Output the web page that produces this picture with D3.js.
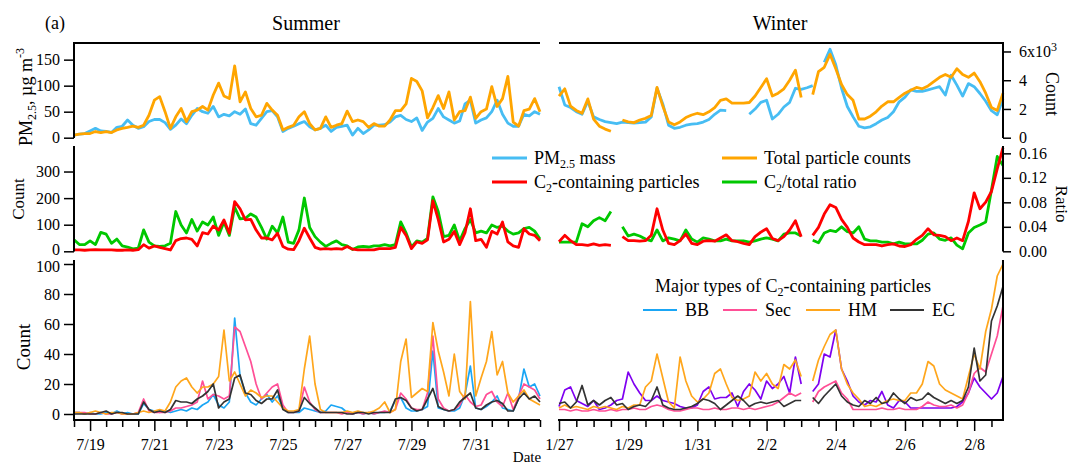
<!DOCTYPE html>
<html>
<head>
<meta charset="utf-8">
<script src="https://cdn.jsdelivr.net/npm/d3@7"></script>
<style>
body { margin: 0; background: #fff; }
</style>
</head>
<body>
<svg id="chart" width="1074" height="467"></svg>
<script>
// 4-hourly series, summer starts 7/18 12:00, winter starts 1/27 00:00
const step = 4 * 3600 * 1000;
const summerStart = new Date(2016, 6, 18, 12);
const summerEnd = new Date(2016, 7, 2, 0);
const winterStart = new Date(2017, 0, 27, 0);
const winterEnd = new Date(2017, 1, 8, 20);

const summerMajor = [19, 21, 23, 25, 27, 29, 31].map(d => new Date(2016, 6, d));
const winterMajor = [[0, 27], [0, 29], [0, 31], [1, 2], [1, 4], [1, 6], [1, 8]].map(d => new Date(2017, d[0], d[1]));

// panel 1
const summerPM = [5,7,8,13,18,13,12,10,20,22,34,24,18,21,31,35,35,29,16,24,36,27,43,56,50,47,60,40,
  45,42,50,45,55,27,24,37,50,52,40,12,18,22,27,31,21,15,18,24,12,20,22,24,5,18,8,15,24,
  24,25,30,40,43,35,31,38,14,30,37,56,40,34,28,32,65,72,28,34,38,50,72,45,28,22,22,45,42,50,45];
const summerTotal = [180,250,290,290,430,360,430,360,540,650,720,800,720,870,1560,2610,2860,1810,650,1450,2030,1120,1810,1920,2170,1920,2970,3800,
  2900,2720,5000,2500,3190,2030,1450,1560,2390,1920,1560,540,720,870,1450,1810,980,540,650,1450,720,870,980,1850,1120,1230,1120,720,980,
  800,800,1230,1880,1880,2350,4130,3910,3260,1380,2100,2930,2030,3190,1230,1810,1880,2820,1340,1810,1990,3550,2170,2720,4270,1090,800,1880,1990,2720,1810];
const winterPM = [98,63,58,50,45,70,40,35,31,29,
  27,30,29,28,29,30,40,95,65,24,
  18,20,24,26,27,30,35,45,53,52,
  null,null,null,45,55,68,72,36,45,59,
  68,95,93,96,100,null,145,170,140,95,
  60,40,22,19,21,27,34,39,50,69,
  78,92,89,89,92,95,98,82,120,101,
  80,104,98,85,70,52,44,75];
const winterTotal = [2900,3400,2200,1900,1700,2700,1300,800,600,450,
  null,1230,1100,1050,1230,1350,1550,3500,2200,1100,
  900,1100,1400,1580,1700,1600,1800,2100,2600,2700,
  2400,2400,2400,2450,2900,3500,4100,2900,3100,3400,
  4000,4700,2800,null,3000,4600,4900,5800,4800,3700,
  3000,2600,1300,1300,1500,1800,2200,2500,2500,2800,
  3100,3300,3500,3400,3600,3900,4200,4400,4200,4800,
  4400,4200,4500,3900,3100,2100,1900,3100];

// panel 2
const summerC2 = [5,5,4,5,6,5,5,5,4,4,5,4,6,25,12,20,15,10,5,40,48,50,45,20,70,65,95,80,
  118,68,187,160,118,120,80,50,50,43,68,18,8,6,40,87,50,15,8,10,8,10,8,18,8,5,5,5,5,
  10,10,10,15,90,60,10,35,30,43,190,120,35,45,75,25,70,160,40,45,15,75,65,110,35,20,15,85,65,60,40];
const summerRatio = [0.019,0.011,0.011,0.017,0.011,0.031,0.028,0.013,0.020,0.009,0.007,0.004,0.005,0.035,0.015,0.009,0.008,0.009,0.013,0.065,0.043,0.030,0.052,0.033,0.048,0.043,0.056,0.026,
  0.048,0.026,0.072,0.053,0.054,0.061,0.056,0.039,0.020,0.041,0.030,0.056,0.015,0.013,0.035,0.087,0.039,0.024,0.015,0.008,0.013,0.017,0.011,0.009,0.003,0.007,0.008,0.007,0.009,
  0.009,0.011,0.009,0.011,0.048,0.030,0.007,0.017,0.015,0.021,0.089,0.065,0.024,0.026,0.043,0.017,0.037,0.052,0.030,0.033,0.030,0.043,0.039,0.041,0.033,0.028,0.030,0.037,0.039,0.033,0.020];
const winterC2 = [36,60,40,25,25,22,28,22,25,22,
  null,55,40,40,38,40,60,160,80,30,
  25,40,65,30,25,38,40,38,50,62,
  40,36,30,25,55,72,85,48,40,55,
  80,115,55,null,60,90,140,175,165,120,
  90,50,35,25,25,25,20,25,28,20,
  18,25,45,60,85,62,60,55,40,50,
  40,112,220,160,185,225,310,390];
const winterRatio = [0.015,0.015,0.015,0.015,0.045,0.04,0.05,0.055,0.05,0.065,
  null,0.04,0.025,0.028,0.025,0.02,0.017,0.035,0.017,0.022,
  0.02,0.017,0.035,0.02,0.015,0.022,0.02,0.017,0.017,0.02,
  0.017,0.017,0.017,0.015,0.017,0.02,0.022,0.02,0.017,0.028,
  0.03,0.03,0.025,null,0.018,0.014,0.03,0.034,0.032,0.04,
  0.032,0.03,0.04,0.02,0.017,0.017,0.015,0.015,0.012,0.015,
  0.012,0.012,0.012,0.018,0.028,0.03,0.02,0.018,0.022,0.01,
  0.004,0.03,0.039,0.043,0.048,0.10,0.155,0.14];

// panel 3
const summerBB = [1,1,0,1,0,0,1,0,2,0,1,0,0,7,3,2,1,2,1,2,3,2,4,3,6,8,13,6,4,8,64,25,14,8,6,10,13,8,12,4,1,1,1,4,3,2,1,2,6,5,4,1,0,1,0,1,0,1,1,2,9,11,4,2,2,3,5,42,4,3,2,2,4,13,32,4,3,5,8,12,4,3,2,10,30,18,20,12];
const summerSec = [1,1,1,0,0,1,0,0,1,0,0,0,1,10,2,1,1,1,2,4,4,5,6,8,22,10,13,12,10,12,58,55,45,35,20,10,14,18,20,6,1,1,2,18,8,3,1,1,1,1,0,1,0,1,0,1,0,1,2,1,3,14,10,4,3,3,14,52,10,4,2,3,6,13,8,5,6,13,15,8,5,14,3,12,20,18,16,10];
const summerHM = [1,1,0,1,2,1,0,1,1,0,0,0,1,2,1,2,3,2,8,18,22,24,18,14,18,18,20,25,56,22,28,20,12,16,14,11,12,12,8,4,2,2,3,30,52,20,3,1,1,1,1,2,1,2,1,1,2,4,8,1,3,35,50,11,14,17,15,61,42,28,12,40,15,10,75,12,24,35,55,26,35,14,8,12,16,10,8,6];
const summerEC = [0,0,0,0,0,1,2,0,1,1,0,0,0,8,3,1,2,1,3,9,8,8,7,10,12,15,20,4,8,10,24,26,14,13,9,7,10,10,16,3,1,1,2,11,7,4,1,1,1,1,1,0,0,1,1,0,1,1,1,1,10,11,9,4,2,3,10,17,5,3,2,3,8,11,14,4,3,6,8,9,7,2,2,10,14,10,12,8];
const winterBB = [5,16,18,9,7,5,9,3,4,6,9,10,28,20,14,9,9,12,9,8,7,5,4,4,6,
  15,18,10,11,11,14,5,15,20,16,10,22,17,20,25,14,38,20,null,15,20,40,38,56,30,22,
  12,8,6,9,8,15,6,4,9,8,4,4,4,4,4,4,4,4,5,8,14,24,18,14,10,14,25];
const winterSec = [3,3,2,3,2,2,3,2,2,3,2,3,3,4,3,3,5,6,5,3,2,2,3,4,4,
  3,3,4,3,3,4,4,3,4,3,4,5,6,8,11,14,12,14,null,8,15,18,20,22,14,10,
  3,3,3,3,3,4,3,3,4,3,3,3,5,8,6,5,5,6,4,6,14,27,31,28,40,52,72];
const winterHM = [4,6,4,5,4,3,5,4,5,4,3,5,4,6,6,18,22,40,24,8,4,38,22,12,8,
  10,14,27,30,20,11,9,10,12,28,22,27,20,17,33,30,36,25,null,22,36,45,53,56,30,20,
  14,10,5,6,5,7,9,10,9,9,14,14,20,35,32,20,16,14,12,10,25,40,30,55,70,92,100];
const winterEC = [7,8,4,8,19,6,9,6,9,11,6,7,3,5,6,5,9,18,6,4,3,3,4,5,7,
  10,9,7,3,6,9,12,9,5,7,8,7,8,9,5,7,9,9,null,11,7,12,16,20,12,8,
  6,5,9,7,11,7,8,14,10,7,11,9,10,14,11,9,7,9,7,9,18,44,22,26,62,72,85];

const font = "'Liberation Serif','Times New Roman',serif";
const svg = d3.select("#chart");

const xS = d3.scaleTime().domain([summerStart, summerEnd]).range([74, 540]);
const xW = d3.scaleTime().domain([winterStart, winterEnd]).range([559, 1003]);

const yPM = d3.scaleLinear().domain([0, 182]).range([137.7, 43]);
const yTot = d3.scaleLinear().domain([0, 6590]).range([137.7, 43]);
const yC2 = d3.scaleLinear().domain([0, 396]).range([251.3, 146]);
const yRat = d3.scaleLinear().domain([0, 0.172]).range([251.3, 146]);
const yTyp = d3.scaleLinear().domain([0, 100]).range([414, 264]);

function series(start, vals) {
  return vals.map((v, i) => ({ t: new Date(+start + i * step), v: v }));
}

function drawLine(x, y, start, vals, color, w) {
  const line = d3.line()
    .defined(d => d.v !== null)
    .x(d => x(d.t))
    .y(d => y(d.v));
  svg.append("path")
    .datum(series(start, vals))
    .attr("fill", "none")
    .attr("stroke", color)
    .attr("stroke-width", w)
    .attr("stroke-linejoin", "round")
    .attr("d", line);
}

function spine(x1, y1, x2, y2) {
  svg.append("line")
    .attr("x1", x1).attr("y1", y1).attr("x2", x2).attr("y2", y2)
    .attr("stroke", "#000").attr("stroke-width", 2);
}

function styleAxis(g, size) {
  g.select(".domain").remove();
  g.selectAll(".tick line").attr("stroke-width", 1.5);
  g.selectAll(".tick text").attr("font-family", font).attr("font-size", size).attr("fill", "#000");
}

// colours
const cPM = "#47bdf3", cTot = "#ffa500", cC2 = "#ff0000", cRat = "#00c800";
const cBB = "#1aa6f5", cSec = "#ff4f96", cHM = "#ffa61c", cEC = "#333333", cBBw = "#7f00f0";

// lines
drawLine(xS, yPM, summerStart, summerPM, cPM, 2.8);
drawLine(xS, yTot, summerStart, summerTotal, cTot, 2.8);
drawLine(xW, yPM, winterStart, winterPM, cPM, 2.8);
drawLine(xW, yTot, winterStart, winterTotal, cTot, 2.8);

drawLine(xS, yRat, summerStart, summerRatio, cRat, 2.8);
drawLine(xS, yC2, summerStart, summerC2, cC2, 2.8);
drawLine(xW, yRat, winterStart, winterRatio, cRat, 2.8);
drawLine(xW, yC2, winterStart, winterC2, cC2, 2.8);

drawLine(xS, yTyp, summerStart, summerBB, cBB, 1.7);
drawLine(xS, yTyp, summerStart, summerSec, cSec, 1.7);
drawLine(xS, yTyp, summerStart, summerHM, cHM, 1.7);
drawLine(xS, yTyp, summerStart, summerEC, cEC, 1.7);
drawLine(xW, yTyp, winterStart, winterBB, cBBw, 1.7);
drawLine(xW, yTyp, winterStart, winterSec, cSec, 1.7);
drawLine(xW, yTyp, winterStart, winterHM, cHM, 1.7);
drawLine(xW, yTyp, winterStart, winterEC, cEC, 1.7);

// left axes
let g = svg.append("g").attr("transform", "translate(74,0)")
  .call(d3.axisLeft(yPM).tickValues([0, 50, 100, 150]).tickSize(10).tickPadding(4));
styleAxis(g, 16);
g = svg.append("g").attr("transform", "translate(74,0)")
  .call(d3.axisLeft(yC2).tickValues([0, 100, 200, 300]).tickSize(10).tickPadding(4));
styleAxis(g, 16);
g.selectAll(".tick text").filter(d => d === 0).attr("dy", "0.2em");
g = svg.append("g").attr("transform", "translate(74,0)")
  .call(d3.axisLeft(yTyp).tickValues([0, 20, 40, 60, 80, 100]).tickSize(10).tickPadding(4));
styleAxis(g, 16);
g.selectAll(".tick text").filter(d => d === 100).attr("dy", "0.45em");
spine(74, 43, 74, 138);
spine(74, 146, 74, 251.5);
spine(74, 260, 74, 421);

// right axes
g = svg.append("g").attr("transform", "translate(1003,0)")
  .call(d3.axisRight(yTot).tickValues([0, 2000, 4000, 6000]).tickSize(8).tickPadding(8)
    .tickFormat(d => d === 6000 ? "6x10" : d / 1000));
styleAxis(g, 16);
g.selectAll(".tick text").filter(d => d === 6000)
  .append("tspan").attr("dy", "-0.55em").attr("font-size", 12).text("3");
g = svg.append("g").attr("transform", "translate(1003,0)")
  .call(d3.axisRight(yRat).tickValues([0, 0.04, 0.08, 0.12, 0.16]).tickSize(8).tickPadding(8)
    .tickFormat(d3.format(".2f")));
styleAxis(g, 16);
spine(1003, 43, 1003, 138);
spine(1003, 146, 1003, 251.5);
spine(1003, 260, 1003, 421);

// top border
spine(73, 43, 540, 43);
spine(559, 43, 1004, 43);

// bottom time axes
function timeAxis(x, majors) {
  const minor = x.ticks(d3.timeHour.every(12)).filter(t => !majors.some(m => +m === +t));
  let a = svg.append("g").attr("transform", "translate(0,420)")
    .call(d3.axisBottom(x).tickValues(minor).tickSize(7).tickFormat(""));
  styleAxis(a, 16);
  a = svg.append("g").attr("transform", "translate(0,420)")
    .call(d3.axisBottom(x).tickValues(majors).tickSize(11).tickPadding(8)
      .tickFormat(d3.timeFormat("%-m/%-d")));
  styleAxis(a, 16);
  spine(x.range()[0] - 1, 420, x.range()[1] + (x === xW ? 1 : 0), 420);
}
timeAxis(xS, summerMajor);
timeAxis(xW, winterMajor);

// titles and axis labels
function label(txt, x, y, size, anchor, rot) {
  const t = svg.append("text")
    .attr("transform", "translate(" + x + "," + y + ")" + (rot ? " rotate(" + rot + ")" : ""))
    .attr("font-family", font).attr("font-size", size)
    .attr("text-anchor", anchor || "start").attr("fill", "#000");
  if (txt !== null) t.text(txt);
  return t;
}
label("(a)", 45, 29, 18);
label("Summer", 306, 30, 20, "middle");
label("Winter", 780, 30, 20, "middle");
label("Date", 527, 462, 15, "middle");

let pm = label(null, 32, 97, 18, "middle", -90);
pm.append("tspan").text("PM");
pm.append("tspan").attr("font-size", 12).attr("dy", 4).text("2.5");
pm.append("tspan").attr("dy", -4).text(", µg m");
pm.append("tspan").attr("font-size", 12).attr("dy", -8).text("-3");

label("Count", 24, 199, 17, "middle", -90);
label("Count", 30, 347, 19, "middle", -90);
label("Count", 1046, 94, 18, "middle", 90);
label("Ratio", 1056, 204, 17, "middle", 90);

// legend, panel 2
function legLine(x1, x2, y, color, w) {
  svg.append("line").attr("x1", x1).attr("x2", x2).attr("y1", y).attr("y2", y)
    .attr("stroke", color).attr("stroke-width", w);
}
legLine(492, 527, 158, cPM, 3);
legLine(492, 527, 182, cC2, 3);
legLine(722, 757, 158, cTot, 3);
legLine(722, 757, 182, cRat, 3);

let t = label(null, 534, 164, 18);
t.append("tspan").text("PM");
t.append("tspan").attr("font-size", 12).attr("dy", 4).text("2.5");
t.append("tspan").attr("dy", -4).text(" mass");
t = label(null, 534, 188, 18);
t.append("tspan").text("C");
t.append("tspan").attr("font-size", 12).attr("dy", 4).text("2");
t.append("tspan").attr("dy", -4).text("-containing particles");
label("Total particle counts", 764, 164, 18);
t = label(null, 764, 188, 18);
t.append("tspan").text("C");
t.append("tspan").attr("font-size", 12).attr("dy", 4).text("2");
t.append("tspan").attr("dy", -4).text("/total ratio");

// legend, panel 3
t = label(null, 655, 292, 18);
t.append("tspan").text("Major types of C");
t.append("tspan").attr("font-size", 12).attr("dy", 4).text("2");
t.append("tspan").attr("dy", -4).text("-containing particles");

const typeNames = ["BB", "Sec", "HM", "EC"];
const typeColors = [cBB, cSec, cHM, cEC];
const typeX = [643, 723, 806, 890];
typeNames.forEach((n, k) => {
  legLine(typeX[k], typeX[k] + 34, 310, typeColors[k], 2);
  label(n, typeX[k] + 42, 316, 18);
});
</script>
</body>
</html>
